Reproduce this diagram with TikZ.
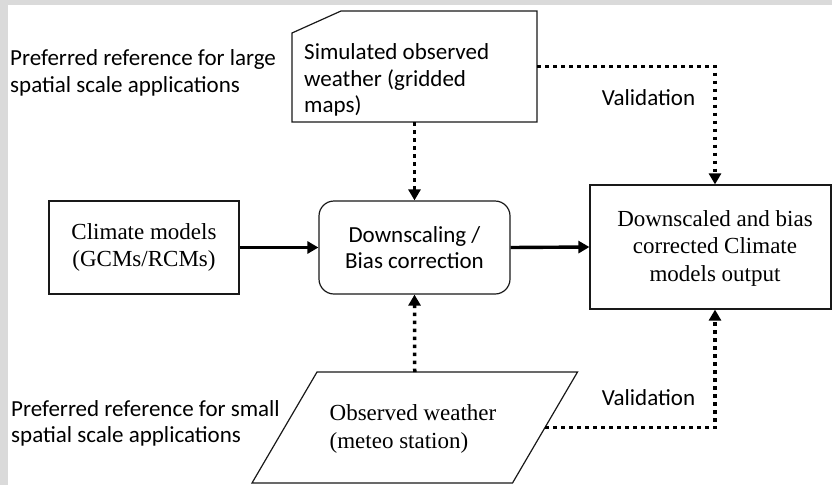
\documentclass[tikz,border=0pt]{standalone}
\usepackage{fontspec}
\setmainfont{Liberation Serif}
\newfontfamily\carl{Carlito}
\usetikzlibrary{arrows.meta,calc}
\definecolor{framegrey}{RGB}{218,218,218}
\definecolor{edge}{RGB}{25,25,25}
\begin{document}
\begin{tikzpicture}[x=1pt,y=-1pt,
  plainbox/.style={draw=edge,line width=1.2pt,inner sep=0pt},
  hidden/.style={inner sep=0pt,outer sep=0pt},
  serif/.style={font=\fontsize{23}{27.5}\selectfont,align=center},
  sans/.style={font=\carl\fontsize{23}{26.5}\selectfont},
  outline/.style={draw=edge,line width=1.2pt},
  flow/.style={line width=3.4pt,-{Triangle[length=11pt,width=12pt]}},
  dotflow/.style={line width=3.5pt,dash pattern=on 3.5pt off 4.5pt,-{Triangle[length=11pt,width=12pt]}}]
\fill[framegrey] (0,0) rectangle (832,485);
\fill[white] (8,5) rectangle (832,485);
\useasboundingbox (0,0) rectangle (832,485);

% top simulated box
\node[hidden,minimum width=245pt,minimum height=111pt] (sim) at (414.5,66.5) {};
\draw[outline] ($(sim.north west)+(0,22)$) -- ($(sim.north west)+(49,0)$) -- (sim.north east) -- (sim.south east) -- (sim.south west) -- cycle;
\node[sans,align=left,anchor=west,inner sep=0pt] (simtext) at (304,80) {Simulated observed\\weather (gridded\\maps)};

\node[sans,align=left,anchor=west,inner sep=0pt] (largelbl) at (10,73) {Preferred reference for large\\spatial scale applications};

% middle row
\node[plainbox,minimum width=190pt,minimum height=93pt,serif] (clim) at (144,247.5) {Climate models\\(GCMs/RCMs)};
\node[plainbox,rounded corners=15pt,minimum width=191pt,minimum height=93pt,sans,align=center] (down) at (414.5,247.5) {Downscaling /\\Bias correction};
\node[plainbox,minimum width=241pt,minimum height=124pt] (out) at (710.5,247) {};
\node[serif,inner sep=0pt] (outtext) at (715,248) {Downscaled and bias\\corrected Climate\\models output};

% bottom observed parallelogram
\node[hidden,minimum width=260.5pt,minimum height=111pt] (obs) at (414.75,427.5) {};
\draw[outline] ($(obs.north west)+(32.5,0)$) -- ($(obs.north east)+(32.5,0)$) -- ($(obs.south east)+(-32.5,0)$) -- ($(obs.south west)+(-32.5,0)$) -- cycle;
\node[serif,align=left,inner sep=0pt] (obstext) at (413,429) {Observed weather\\(meteo station)};

\node[sans,align=left,anchor=west,inner sep=0pt] (smalllbl) at (11,423.5) {Preferred reference for small\\spatial scale applications};

\node[sans,inner sep=0pt] (val1) at (648.5,98) {Validation};
\node[sans,inner sep=0pt] (val2) at (648.5,398) {Validation};

% connectors
\draw[flow] (clim.east) -- (down.west);
\draw[flow] (down.east) -- (out.west);
\draw[dotflow] (sim.south) -- (down.north);
\draw[dotflow] (obs.north) -- (down.south);
\draw[dotflow] (sim.east) -| (outtext |- out.north);
\draw[dotflow] (obs.east) -| (outtext |- out.south);
\end{tikzpicture}
\end{document}
